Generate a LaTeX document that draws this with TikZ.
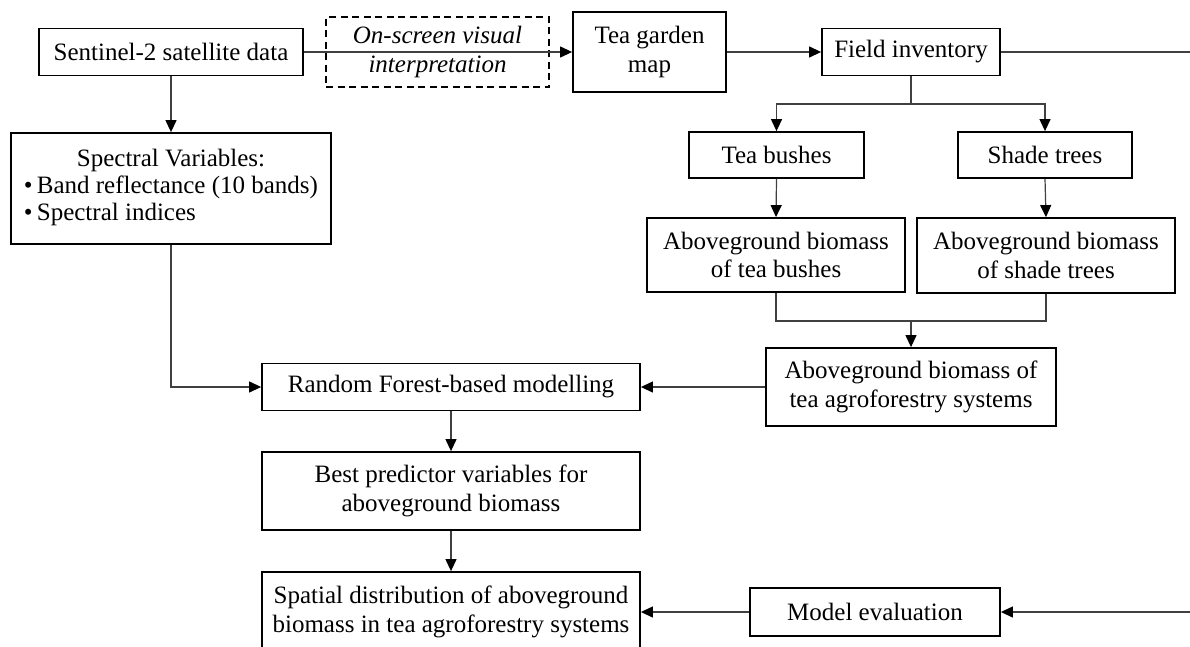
\documentclass[tikz,border=0pt]{standalone}
\usepackage{fontspec}
\setmainfont{Liberation Serif}
\usetikzlibrary{arrows.meta}
\begin{document}
\begin{tikzpicture}[x=1pt,y=-1pt,
  box/.style={draw=black, line width=1.8pt, inner sep=0pt, align=center,
    font=\fontsize{25}{28.5}\selectfont},
  dashbox/.style={box, line width=1.5pt, dash pattern=on 7pt off 4.5pt,
    font=\fontsize{25}{28.5}\selectfont\itshape},
  conn/.style={draw=black!75, line width=1.2pt},
  arr/.style={conn, -{Triangle[length=12pt,width=11pt,fill=black,color=black]}}]
\useasboundingbox (0,0) rectangle (1190,646);
\clip (0,0) rectangle (1190,646);

% nodes
\node[box, minimum width=264, minimum height=47] (sent) at (171,52) {Sentinel-2 satellite data};
\node[dashbox, minimum width=223, minimum height=70] (interp) at (437.5,52) {On-screen visual\\[1pt]interpretation};
\node[box, minimum width=153, minimum height=80] (tea) at (649.5,52) {Tea garden\\map};
\node[box, minimum width=178, minimum height=47] (field) at (911,52) {Field inventory};
\node[box, minimum width=175, minimum height=46] (tb) at (776.5,155) {Tea bushes};
\node[box, minimum width=174, minimum height=46] (st) at (1045,155) {Shade trees};
\node[box, minimum width=258, minimum height=74] (agbtb) at (776,255) {Aboveground biomass\\of tea bushes};
\node[box, minimum width=258, minimum height=75] (agbst) at (1046,255.5) {Aboveground biomass\\of shade trees};
\node[box, minimum width=290, minimum height=78] (agro) at (911,387) {Aboveground biomass of\\tea agroforestry systems};
\node[box, minimum width=320, minimum height=111] (spec) at (171,188.5)
  {\renewcommand{\arraystretch}{0.95}\begin{tabular}{@{}l@{}}
   \multicolumn{1}{@{}c@{}}{Spectral Variables:}\\
   \textbullet\,Band reflectance (10 bands)\\
   \textbullet\,Spectral indices\end{tabular}};
\node[box, minimum width=378, minimum height=47] (rf) at (451,387) {Random Forest-based modelling};
\node[box, minimum width=378, minimum height=78] (best) at (451,491) {Best predictor variables for\\aboveground biomass};
\node[box, minimum width=378, minimum height=80] (spat) at (451,612) {Spatial distribution of aboveground\\biomass in tea agroforestry systems};
\node[box, minimum width=250, minimum height=48] (me) at (875,612) {Model evaluation};

% coordinates
\coordinate (fr) at (1190,52);
\coordinate (mr) at (1190,612);
\coordinate (fj) at (911,104);
\coordinate (mj) at (911,321);

% connectors
\draw[arr] (sent.east) -- (tea.west);
\draw[arr] (tea.east) -- (field.west);
\draw[conn] (field.east) -- (fr);
\draw[conn] (field.south) -- (fj);
\draw[arr] (fj) -| (tb.north);
\draw[arr] (fj) -| (st.north);
\draw[arr] (tb.south) -- (agbtb.north);
\draw[arr] (st.south) -- (agbst.north);
\draw[conn] (agbtb.south) |- (mj);
\draw[conn] (agbst.south) |- (mj);
\draw[arr] (mj) -- (agro.north);
\draw[arr] (sent.south) -- (spec.north);
\draw[arr] (spec.south) |- (rf.west);
\draw[arr] (agro.west) -- (rf.east);
\draw[arr] (rf.south) -- (best.north);
\draw[arr] (best.south) -- (spat.north);
\draw[arr] (me.west) -- (spat.east);
\draw[arr] (mr) -- (me.east);
\end{tikzpicture}
\end{document}
